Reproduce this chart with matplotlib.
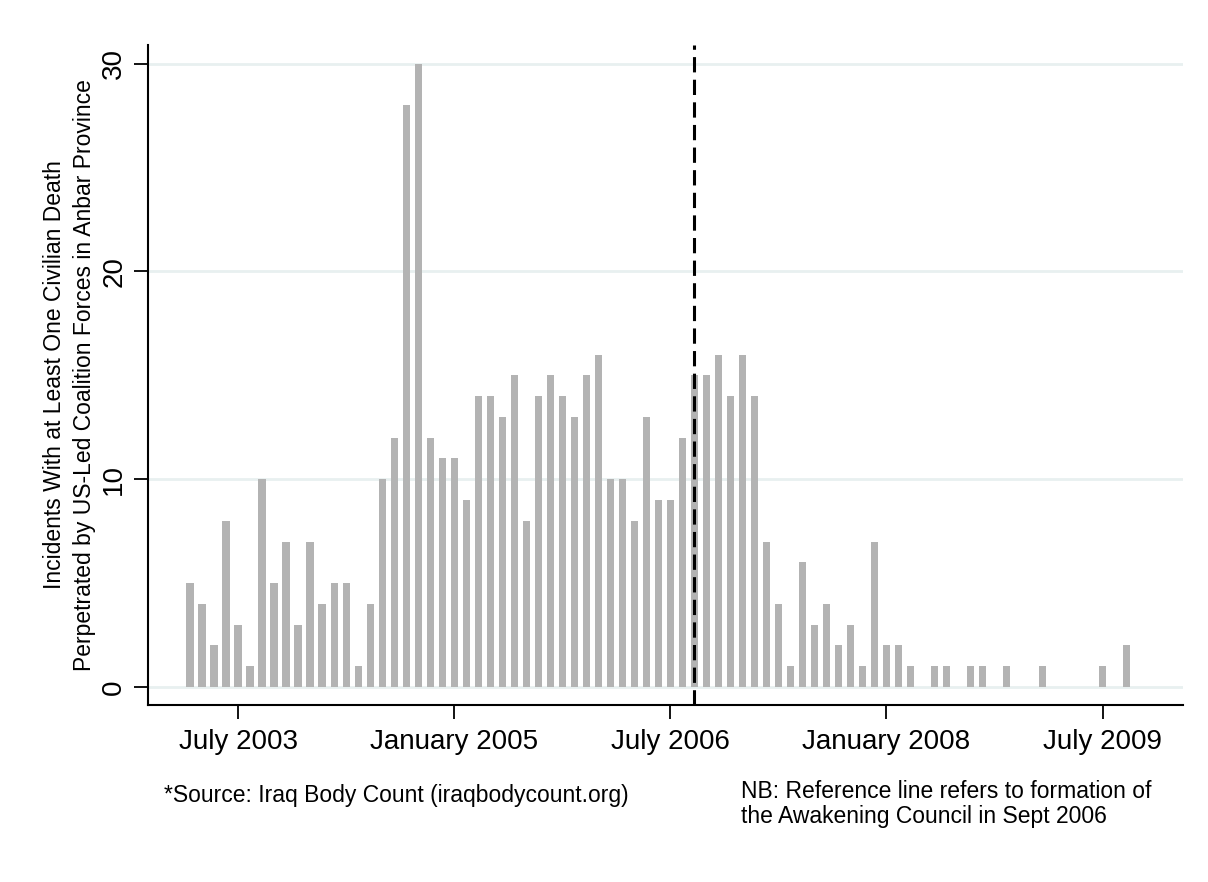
import matplotlib
matplotlib.use('Agg')
from matplotlib import pyplot as plt
from matplotlib import font_manager

# Monthly incident counts, March 2003 .. September 2009
months = list(range(79))
incidents = [5, 4, 2, 8, 3, 1, 10, 5, 7, 3,
             7, 4, 5, 5, 1, 4, 10, 12, 28, 30,
             12, 11, 11, 9, 14, 14, 13, 15, 8, 14,
             15, 14, 13, 15, 16, 10, 10, 8, 13, 9,
             9, 12, 15, 15, 16, 14, 16, 14, 7, 4,
             1, 6, 3, 4, 2, 3, 1, 7, 2, 2,
             1, 0, 1, 1, 0, 1, 1, 0, 1, 0,
             0, 1, 0, 0, 0, 0, 1, 0, 2]

tick_months = [4, 22, 40, 58, 76]
tick_labels = ['July 2003', 'January 2005', 'July 2006', 'January 2008', 'July 2009']
ref_month = 42  # Sept 2006
y_ticks = [0, 10, 20, 30]

names = {f.name for f in font_manager.fontManager.ttflist}
if 'Liberation Sans Narrow' in names:
    plt.rcParams['font.family'] = ['Liberation Sans Narrow', 'DejaVu Sans']
    big, small = 24, 20
else:
    plt.rcParams['font.family'] = ['Liberation Sans', 'DejaVu Sans']
    big, small = 20, 16.5

fig = plt.figure(figsize=(12.08, 8.82), dpi=100)
ax = fig.add_axes([148 / 1208, 1 - 705 / 882, (1183 - 148) / 1208, (705 - 45) / 882])

for y in y_ticks:
    ax.axhline(y, color='#e8f0f0', linewidth=2, zorder=0)

ax.bar(months, incidents, width=0.6, color='#b3b3b3', zorder=2)
ax.axvline(ref_month, color='black', linewidth=2.2, linestyle=(0, (5, 2.4)), zorder=3)

ax.set_xlim(-3.5, 82.7)
ax.set_ylim(-0.87, 30.9)
ax.set_xticks(tick_months)
ax.set_xticklabels(tick_labels, fontsize=big)
ax.set_yticks(y_ticks)
ax.set_yticklabels([str(v) for v in y_ticks], fontsize=big, rotation=90, va='center')

for side in ['top', 'right']:
    ax.spines[side].set_visible(False)
for side in ['left', 'bottom']:
    ax.spines[side].set_linewidth(1.5)
ax.tick_params(axis='x', length=10, width=1.3, pad=7)
ax.tick_params(axis='y', length=10, width=1.3, pad=5)

ax.set_ylabel('Incidents With at Least One Civilian Death\nPerpetrated by US-Led Coalition Forces in Anbar Province',
              fontsize=small, linespacing=1.38)
ax.yaxis.set_label_coords(-0.05, 0.5)

fig.text(164 / 1208, 1 - 802 / 882, '*Source: Iraq Body Count (iraqbodycount.org)',
         fontsize=small, va='baseline', ha='left')
fig.text(741 / 1208, 1 - 798 / 882, 'NB: Reference line refers to formation of',
         fontsize=small, va='baseline', ha='left')
fig.text(741 / 1208, 1 - 823 / 882, 'the Awakening Council in Sept 2006',
         fontsize=small, va='baseline', ha='left')

fig.savefig('out.png', dpi=100, facecolor='white')
